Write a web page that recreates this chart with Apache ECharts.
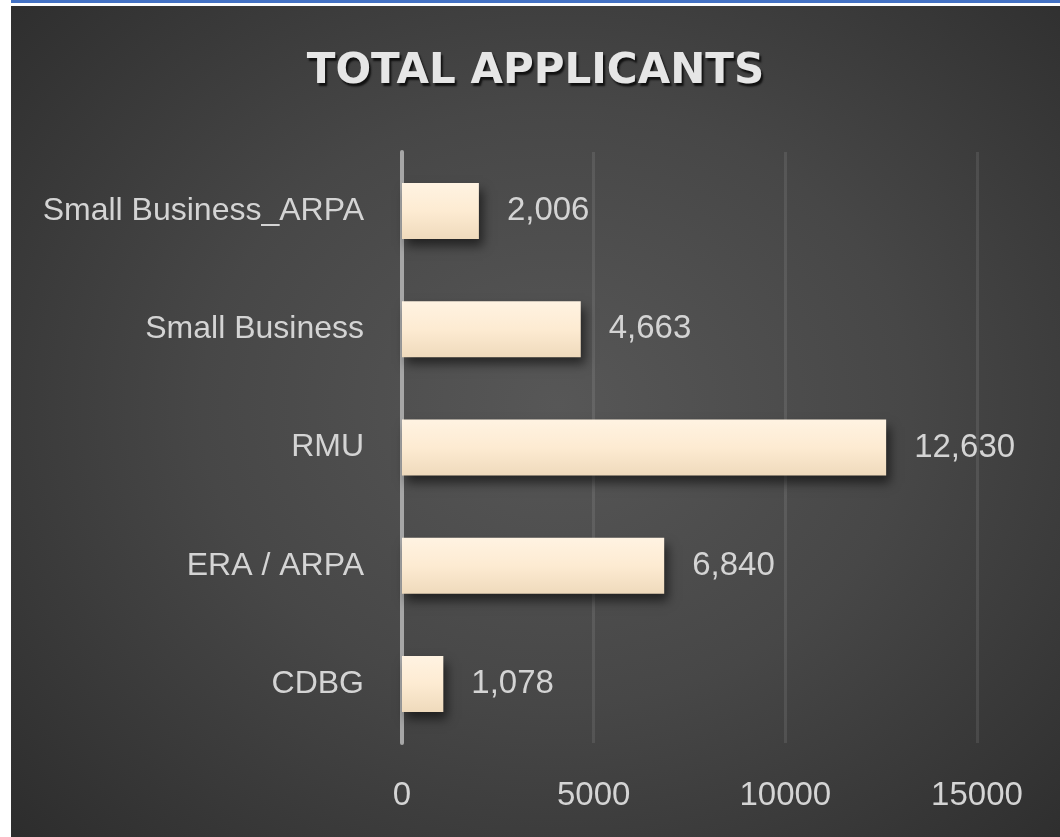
<!DOCTYPE html>
<html>
<head>
<meta charset="utf-8">
<script src="https://cdn.jsdelivr.net/npm/echarts@6/dist/echarts.min.js"></script>
<style>
  html, body { margin: 0; padding: 0; background: #ffffff; width: 1060px; height: 837px; overflow: hidden; }
  #topbar { position: absolute; left: 11px; top: 0; width: 1049px; height: 3px; background: #4472c4; }
  #chart { position: absolute; left: 11px; top: 6px; width: 1049px; height: 831px;
    background: radial-gradient(ellipse 75% 80% at 52% 48%, #575757 0%, #474747 45%, #2a2a2a 100%); }
</style>
</head>
<body>
<div id="topbar"></div>
<div id="chart"></div>
<script>
const titleText = 'TOTAL APPLICANTS';
const categories = ['CDBG', 'ERA / ARPA', 'RMU', 'Small Business', 'Small Business_ARPA'];
const applicants = [1078, 6840, 12630, 4663, 2006];
const axisMin = 0;
const axisMax = 15000;
const axisStep = 5000;

const chart = echarts.init(document.getElementById('chart'), null, { renderer: 'canvas' });
chart.setOption({
  backgroundColor: 'transparent',
  animation: false,
  title: {
    text: titleText,
    left: 'center',
    top: 40,
    textStyle: {
      fontFamily: 'DejaVu Sans',
      fontWeight: 'bold',
      fontSize: 42,
      color: '#e6e6e6',
      textShadowColor: 'rgba(0,0,0,0.75)',
      textShadowOffsetX: 2,
      textShadowOffsetY: 3,
      textShadowBlur: 2
    }
  },
  grid: { left: 391, right: 83, top: 146, bottom: 94 },
  xAxis: {
    type: 'value',
    min: axisMin,
    max: axisMax,
    interval: axisStep,
    axisLine: { show: false },
    axisTick: { show: false },
    splitLine: { show: true, lineStyle: { color: 'rgba(255,255,255,0.09)', width: 3 } },
    axisLabel: {
      color: '#d4d4d4',
      fontFamily: 'Liberation Sans',
      fontSize: 33,
      margin: 36,
      formatter: v => String(v)
    }
  },
  yAxis: {
    type: 'category',
    data: categories,
    axisLine: { show: true, lineStyle: { color: '#a6a6a6', width: 4 } },
    axisTick: { show: false },
    splitLine: { show: false },
    axisLabel: {
      color: '#d4d4d4',
      fontFamily: 'Liberation Sans',
      fontSize: 32,
      margin: 38,
      padding: [0, 0, 6, 0]
    }
  },
  series: [{
    type: 'bar',
    data: applicants,
    barWidth: 56,
    itemStyle: {
      color: new echarts.graphic.LinearGradient(0, 0, 0, 1, [
        { offset: 0, color: '#fff3e2' },
        { offset: 0.5, color: '#fdebd2' },
        { offset: 1, color: '#efdabc' }
      ]),
      shadowColor: 'rgba(0,0,0,0.55)',
      shadowBlur: 10,
      shadowOffsetX: 4,
      shadowOffsetY: 7
    },
    label: {
      show: true,
      position: 'right',
      distance: 28,
      color: '#d4d4d4',
      fontFamily: 'Liberation Sans',
      fontSize: 33,
      formatter: p => p.value.toLocaleString('en-US')
    }
  }]
});
</script>
</body>
</html>
